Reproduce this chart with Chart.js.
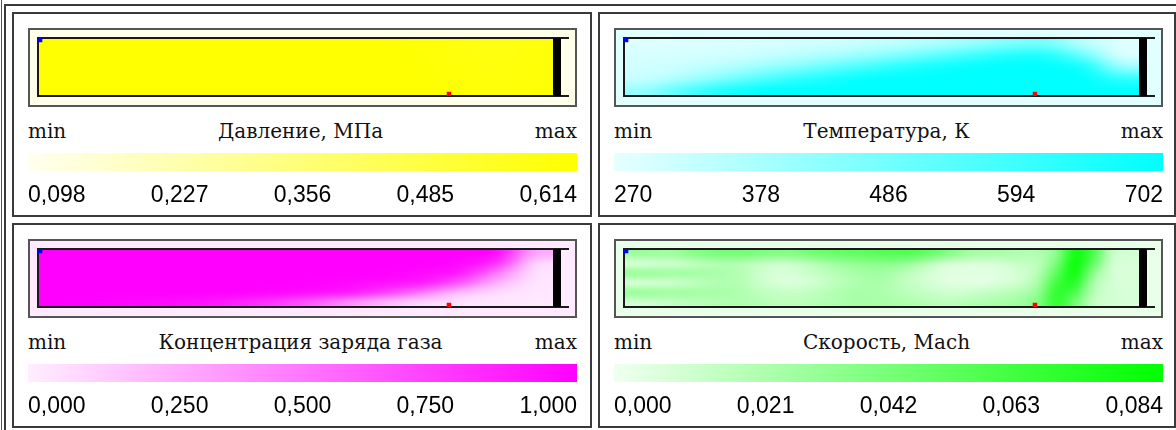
<!DOCTYPE html>
<html>
<head>
<meta charset="utf-8">
<script src="https://cdn.jsdelivr.net/npm/chart.js@4.4.0/dist/chart.umd.min.js"></script>
<style>
  html, body { margin: 0; padding: 0; background: #fff; }
  body { width: 1176px; height: 430px; position: relative; overflow: hidden; }
  #edge { position: absolute; left: 1px; top: 0; height: 430px; border-left: 1px solid #555; }
  #frame { position: absolute; left: 4px; top: 4px; width: 1200px; height: 460px; border: 2px solid #3a3a3a; box-sizing: border-box; }
  .panel { position: absolute; width: 580px; height: 205px; border: 2px solid #3a3a3a; box-sizing: border-box; background: #fff; }
  .field { position: absolute; left: 14px; top: 14px; width: 549px; height: 79px; border: 2px solid #555; box-sizing: border-box; }
  .field canvas { position: absolute; left: 0; top: 0; }
  .caption { position: absolute; left: 14px; top: 105px; width: 549px; height: 24px; display: flex; justify-content: space-between;
             font: 20px 'DejaVu Serif'; line-height: 24px; color: #111; white-space: nowrap; }
  .bar { position: absolute; left: 14px; top: 139px; }
</style>
</head>
<body>
<div id="edge"></div>
<div id="frame"></div>

<div class="panel" style="left:12px; top:12px;">
  <div class="field" id="f0"><canvas id="field0"></canvas></div>
  <div class="caption"><span>min</span><span id="t0"></span><span>max</span></div>
  <canvas class="bar" id="bar0"></canvas>
</div>
<div class="panel" style="left:598px; top:12px; width:578px;">
  <div class="field" id="f1"><canvas id="field1"></canvas></div>
  <div class="caption"><span>min</span><span id="t1"></span><span>max</span></div>
  <canvas class="bar" id="bar1"></canvas>
</div>
<div class="panel" style="left:12px; top:223px;">
  <div class="field" id="f2"><canvas id="field2"></canvas></div>
  <div class="caption"><span>min</span><span id="t2"></span><span>max</span></div>
  <canvas class="bar" id="bar2"></canvas>
</div>
<div class="panel" style="left:598px; top:223px; width:578px;">
  <div class="field" id="f3"><canvas id="field3"></canvas></div>
  <div class="caption"><span>min</span><span id="t3"></span><span>max</span></div>
  <canvas class="bar" id="bar3"></canvas>
</div>

<script>
// ----- Data
const TITLES = ['Давление, МПа', 'Температура, К', 'Концентрация заряда газа', 'Скорость, Mach']

const PRESSURE_TICKS = [0.098, 0.227, 0.356, 0.485, 0.614]
const TEMP_TICKS = [270, 378, 486, 594, 702]
const CONC_TICKS = [0.000, 0.250, 0.500, 0.750, 1.000]
const MACH_TICKS = [0.000, 0.021, 0.042, 0.063, 0.084]

// fields: rows from top wall to bottom wall, columns from inlet to outlet
const PRESSURE_FIELD = [
  [0.612, 0.612, 0.612, 0.612, 0.612, 0.612, 0.612, 0.612, 0.612, 0.610, 0.600, 0.585, 0.575, 0.590],
  [0.612, 0.612, 0.612, 0.612, 0.612, 0.612, 0.612, 0.612, 0.612, 0.611, 0.605, 0.590, 0.580, 0.595],
  [0.612, 0.612, 0.612, 0.612, 0.612, 0.612, 0.612, 0.612, 0.612, 0.612, 0.608, 0.595, 0.585, 0.600],
  [0.612, 0.612, 0.612, 0.612, 0.612, 0.612, 0.612, 0.612, 0.612, 0.612, 0.610, 0.600, 0.590, 0.600],
  [0.612, 0.612, 0.612, 0.612, 0.612, 0.612, 0.612, 0.612, 0.612, 0.612, 0.611, 0.605, 0.595, 0.605]
]
const TEMP_FIELD = [
  [285, 288, 292, 298, 305, 315, 330, 350, 380, 420, 470, 480, 360, 285],
  [300, 302, 310, 325, 350, 380, 420, 470, 530, 590, 640, 640, 500, 300],
  [310, 325, 355, 400, 450, 510, 570, 630, 670, 695, 700, 700, 660, 420],
  [330, 380, 450, 530, 600, 650, 690, 700, 702, 702, 702, 702, 700, 610],
  [420, 530, 630, 685, 700, 702, 702, 702, 702, 702, 702, 702, 702, 700]
]
const CONC_FIELD = [
  [1.00, 1.00, 1.00, 1.00, 1.00, 1.00, 1.00, 1.00, 1.00, 1.00, 1.00, 1.00, 0.95, 0.30],
  [1.00, 1.00, 1.00, 1.00, 1.00, 1.00, 1.00, 1.00, 1.00, 1.00, 1.00, 0.97, 0.78, 0.10],
  [1.00, 1.00, 1.00, 1.00, 1.00, 1.00, 1.00, 1.00, 1.00, 0.99, 0.96, 0.88, 0.48, 0.06],
  [1.00, 1.00, 1.00, 1.00, 1.00, 1.00, 1.00, 0.99, 0.97, 0.93, 0.88, 0.62, 0.24, 0.04],
  [1.00, 1.00, 1.00, 1.00, 1.00, 0.99, 0.97, 0.94, 0.88, 0.72, 0.48, 0.20, 0.08, 0.03],
  [1.00, 0.99, 0.97, 0.95, 0.92, 0.85, 0.75, 0.60, 0.40, 0.22, 0.10, 0.05, 0.03, 0.02]
]
const MACH_FIELD = [
  [0.030, 0.030, 0.028, 0.035, 0.040, 0.042, 0.042, 0.040, 0.038, 0.040, 0.045, 0.048, 0.050, 0.052, 0.055, 0.055, 0.050, 0.040, 0.030, 0.025, 0.025, 0.022, 0.022, 0.035, 0.078, 0.060, 0.015, 0.010],
  [0.008, 0.010, 0.012, 0.015, 0.020, 0.022, 0.020, 0.015, 0.012, 0.015, 0.022, 0.028, 0.032, 0.035, 0.035, 0.030, 0.020, 0.010, 0.008, 0.008, 0.010, 0.015, 0.018, 0.042, 0.082, 0.050, 0.012, 0.008],
  [0.032, 0.030, 0.028, 0.028, 0.026, 0.024, 0.020, 0.012, 0.008, 0.010, 0.015, 0.020, 0.025, 0.028, 0.025, 0.018, 0.010, 0.006, 0.005, 0.005, 0.006, 0.010, 0.020, 0.052, 0.080, 0.035, 0.010, 0.008],
  [0.008, 0.010, 0.012, 0.015, 0.020, 0.022, 0.020, 0.012, 0.008, 0.008, 0.012, 0.018, 0.022, 0.025, 0.022, 0.015, 0.010, 0.006, 0.005, 0.005, 0.008, 0.012, 0.025, 0.062, 0.072, 0.025, 0.010, 0.008],
  [0.032, 0.030, 0.028, 0.028, 0.026, 0.025, 0.022, 0.018, 0.015, 0.015, 0.018, 0.022, 0.025, 0.025, 0.022, 0.018, 0.015, 0.012, 0.012, 0.015, 0.018, 0.022, 0.032, 0.068, 0.058, 0.020, 0.010, 0.008],
  [0.010, 0.012, 0.015, 0.018, 0.020, 0.022, 0.022, 0.020, 0.018, 0.018, 0.020, 0.022, 0.025, 0.025, 0.025, 0.022, 0.020, 0.018, 0.020, 0.022, 0.025, 0.028, 0.038, 0.068, 0.045, 0.015, 0.010, 0.008]
]

// probe points (channel length 0..1, height 0..1)
const PROBE_IN = [{ x: 0.004, y: 0.966 }]
const PROBE_OUT = [{ x: 0.798, y: 0.034 }]
// outlet wall position
const WALL = [{ x: 1.0078, y: 0 }, { x: 1.0078, y: 1 }]

// ----- Look
const PANELS = [
  { field: PRESSURE_FIELD, ticks: PRESSURE_TICKS, digits: 3, lo: [255, 255, 240], hi: [255, 255, 0], bg: '#ffffea' },
  { field: TEMP_FIELD, ticks: TEMP_TICKS, digits: 0, lo: [230, 255, 255], hi: [0, 255, 255], bg: '#e2ffff' },
  { field: CONC_FIELD, ticks: CONC_TICKS, digits: 3, lo: [255, 238, 255], hi: [255, 0, 255], bg: '#ffeaff' },
  { field: MACH_FIELD, ticks: MACH_TICKS, digits: 3, lo: [240, 255, 240], hi: [0, 255, 0], bg: '#eaffea' }
]
const X_END = 530 / 515   // plot lines run a little past the outlet wall
const FIELD_W = 545, FIELD_H = 75
const BAR_W = 549, BAR_H = 57
const TICK_FONT = { family: "'Liberation Sans', Arial, sans-serif", size: 23 }

function mix(lo, hi, f) {
  f = Math.max(0, Math.min(1, f))
  return lo.map((a, i) => Math.round(a + (hi[i] - a) * f))
}
function rgb(c) { return 'rgb(' + c.join(',') + ')' }
function fmt(v, d) { return Number(v).toFixed(d).replace('.', ',') }

// width of a tick label, so end labels sit flush with the bar ends
var measure = document.createElement('canvas').getContext('2d')
measure.font = TICK_FONT.size + 'px ' + TICK_FONT.family
function halfLabel(v, d) { return measure.measureText(fmt(v, d)).width / 2 }

function fieldImage(p) {
  var rows = p.field.length, cols = p.field[0].length
  var min = p.ticks[0], max = p.ticks[p.ticks.length - 1]
  var img = document.createElement('canvas')
  img.width = cols
  img.height = rows
  var g = img.getContext('2d')
  var id = g.createImageData(cols, rows)
  p.field.forEach(function (row, r) {
    row.forEach(function (v, c) {
      var col = mix(p.lo, p.hi, (v - min) / (max - min))
      var k = (r * cols + c) * 4
      id.data[k] = col[0]; id.data[k + 1] = col[1]; id.data[k + 2] = col[2]; id.data[k + 3] = 255
    })
  })
  g.putImageData(id, 0, 0)
  return img
}

function edgeAxis(pos) {
  return {
    type: 'linear', position: pos, display: true,
    min: 0, max: pos == 'left' ? 1 : X_END,
    ticks: { display: false }, grid: { display: false, drawTicks: false },
    border: { display: true, color: '#1a1a1a', width: 2 }
  }
}

PANELS.forEach(function (p, i) {
  document.getElementById('t' + i).textContent = TITLES[i]
  document.getElementById('f' + i).style.background = p.bg

  // -----Field
  var img = fieldImage(p)
  var fc = document.getElementById('field' + i)
  fc.width = FIELD_W
  fc.height = FIELD_H
  new Chart(fc, {
    type: 'scatter',
    data: {
      datasets: [
        { data: WALL, showLine: true, borderColor: '#000', borderWidth: 8, pointRadius: 0 },
        { data: PROBE_IN, pointStyle: 'rect', pointRadius: 3.2, backgroundColor: '#0000ff', borderWidth: 0 },
        { data: PROBE_OUT, pointStyle: 'rect', pointRadius: 3.2, backgroundColor: '#ff0000', borderWidth: 0 }
      ]
    },
    options: {
      responsive: false, animation: false, devicePixelRatio: 1,
      layout: { padding: { left: 8, top: 8, right: 7, bottom: 9 } },
      plugins: { legend: { display: false }, tooltip: { enabled: false } },
      scales: { x: edgeAxis('bottom'), x2: edgeAxis('top'), y: edgeAxis('left') }
    },
    plugins: [{
      id: 'field',
      beforeDraw: function (chart) {
        var x = chart.scales.x, y = chart.scales.y, ctx = chart.ctx
        var l = x.getPixelForValue(0), r = x.getPixelForValue(1)
        var t = y.getPixelForValue(1), b = y.getPixelForValue(0)
        ctx.save()
        ctx.imageSmoothingEnabled = true
        ctx.imageSmoothingQuality = 'high'
        ctx.drawImage(img, l, t, r - l, b - t)
        ctx.restore()
      }
    }]
  })

  // -----Colour bar with value ticks
  var t0 = p.ticks[0], t1 = p.ticks[p.ticks.length - 1]
  var wl = halfLabel(t0, p.digits), wr = halfLabel(t1, p.digits)
  var perPx = (t1 - t0) / (BAR_W - wl - wr)
  var lo = t0 - wl * perPx, hi = t1 + wr * perPx
  var bc = document.getElementById('bar' + i)
  bc.width = BAR_W
  bc.height = BAR_H
  new Chart(bc, {
    type: 'bar',
    data: {
      labels: [''],
      datasets: [{
        data: [[lo, hi]],
        borderWidth: 0, borderSkipped: false,
        barPercentage: 1, categoryPercentage: 1,
        backgroundColor: function (c) {
          var a = c.chart.chartArea
          if (!a) return rgb(p.lo)
          var g = c.chart.ctx.createLinearGradient(a.left, 0, a.right, 0)
          g.addColorStop(0, rgb(p.lo))
          g.addColorStop(1, rgb(p.hi))
          return g
        }
      }]
    },
    options: {
      indexAxis: 'y', responsive: false, animation: false, devicePixelRatio: 1,
      layout: { padding: 0 },
      plugins: { legend: { display: false }, tooltip: { enabled: false } },
      scales: {
        y: { display: false },
        x: {
          type: 'linear', min: lo, max: hi,
          grid: { display: false, drawTicks: false }, border: { display: false },
          afterBuildTicks: function (s) { s.ticks = p.ticks.map(function (v) { return { value: v } }) },
          afterFit: function (s) {
            s.height = BAR_H - 18
            s.paddingLeft = 0
            s.paddingRight = 0
          },
          ticks: {
            autoSkip: false, maxRotation: 0, padding: 11, color: '#000',
            font: TICK_FONT,
            callback: function (v) { return fmt(v, p.digits) }
          }
        }
      }
    }
  })
})
</script>
</body>
</html>
